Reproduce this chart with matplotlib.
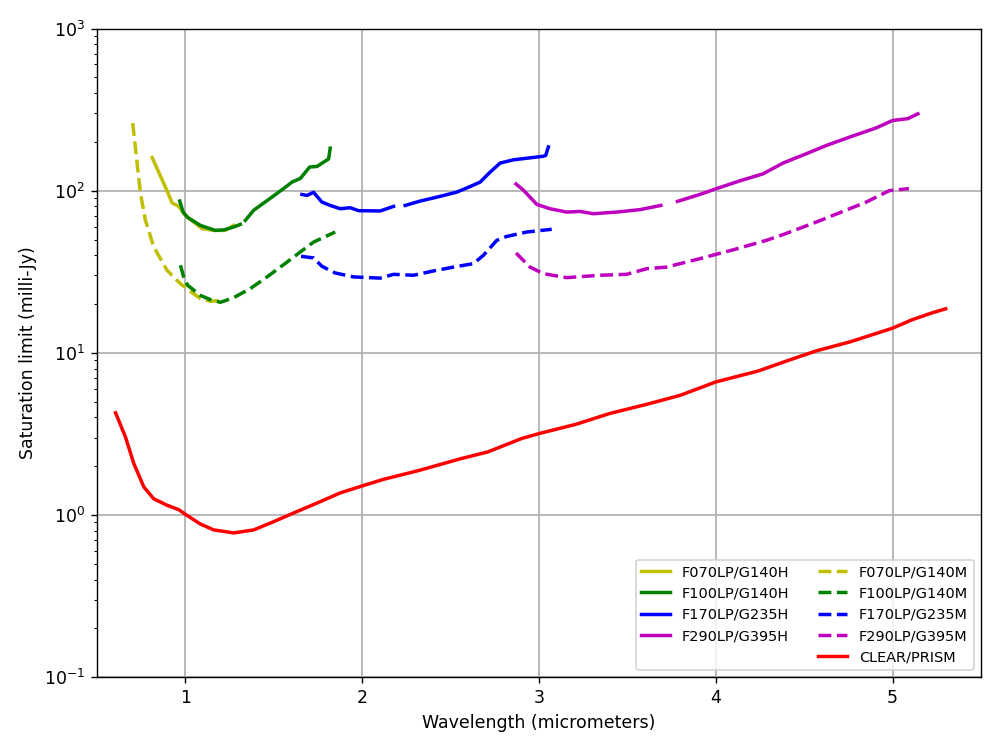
import numpy as np
import matplotlib
matplotlib.use("Agg")
import matplotlib.pyplot as plt
from matplotlib.lines import Line2D

# ---------------- data (wavelength in micrometers, limit in milli-Jy) ----------------
# nan = detector gap
wl_f070_h = [0.812, 0.849, 0.896, 0.925, 0.962, 1.0, 1.047, 1.094, 1.16, 1.226, 1.273]
sat_f070_h = [160, 130, 100, 84, 80, 70.5, 64.1, 58.4, 56.9, 56.9, 61.1]

wl_f100_h = [0.968, 0.987, 1.013, 1.085, 1.169, 1.217, 1.273, 1.311, 1.325,
             1.339, 1.386, 1.49, 1.555, 1.603, 1.65, 1.703, 1.744, 1.81, 1.819]
sat_f100_h = [86.3, 73.8, 68.3, 61.1, 56.9, 57.3, 59.7, 62, np.nan,
              65.6, 75.7, 91.4, 103, 113, 119, 140, 141, 157, 183]

wl_f170_h = [1.659, 1.688, 1.725, 1.772, 1.819, 1.876, 1.932, 1.979, 2.102, 2.177, 2.21,
             2.243, 2.328, 2.441, 2.535, 2.61, 2.667, 2.723, 2.78, 2.855, 3.024, 3.038, 3.053]
sat_f170_h = [94.8, 93.5, 97.7, 85.1, 81.1, 77.4, 78.5, 75.3, 75, 80, np.nan,
              81.1, 86.3, 92.3, 98, 106, 113, 130, 148, 155, 163, 165, 186]

wl_f290_h = [2.87, 2.911, 2.987, 3.062, 3.156, 3.232, 3.307, 3.439, 3.571, 3.689, 3.74,
             3.783, 3.91, 4.004, 4.136, 4.267, 4.38, 4.512, 4.625, 4.757, 4.908, 5.0, 5.086, 5.143]
sat_f290_h = [110, 101, 82.4, 77.4, 73.8, 74.5, 72.1, 73.8, 76.4, 81.1, np.nan,
              85.9, 94.8, 103, 115, 127, 148, 169, 190, 214, 244, 271, 278, 298]

wl_f070_m = [0.702, 0.727, 0.746, 0.774, 0.821, 0.896, 0.972, 1.028, 1.085, 1.141, 1.19]
sat_f070_m = [261, 147, 95.8, 65.6, 45, 32.3, 26.7, 24.0, 21.6, 20.8, 21]

wl_f100_m = [0.972, 0.99, 1.013, 1.085, 1.141, 1.198, 1.273, 1.367, 1.462, 1.575,
             1.65, 1.725, 1.847]
sat_f100_m = [34.7, 29.4, 26.1, 22.6, 21.3, 20.5, 21.9, 24.9, 29.4, 36.3,
              41.9, 48.2, 55.6]

wl_f170_m = [1.654, 1.725, 1.772, 1.847, 1.951, 2.102, 2.177, 2.29, 2.403, 2.516,
             2.629, 2.685, 2.761, 2.817, 2.93, 3.072]
sat_f170_m = [39.4, 38.5, 34.2, 31.1, 29.4, 28.9, 30.5, 30.1, 32, 33.8,
              35.5, 39.9, 49.4, 52.2, 55.6, 57.8]

wl_f290_m = [2.87, 2.949, 3.024, 3.156, 3.345, 3.495, 3.608, 3.721, 3.91, 4.098,
             4.286, 4.38, 4.569, 4.757, 4.851, 4.981, 5.092]
sat_f290_m = [41.3, 33.8, 30.8, 29.1, 30.1, 30.5, 33.0, 33.8, 38.1, 43.2,
              49.4, 53.6, 64.1, 77.4, 85.1, 100, 103]

wl_prism = [0.605, 0.661, 0.708, 0.765, 0.821, 0.896, 0.962, 1.006, 1.085, 1.16, 1.273,
            1.386, 1.499, 1.612, 1.763, 1.876, 1.998, 2.12, 2.31, 2.56, 2.71, 2.9, 3.0,
            3.21, 3.4, 3.61, 3.8, 4.0, 4.24, 4.4, 4.57, 4.76, 5.0, 5.11, 5.22, 5.3]
sat_prism = [4.27, 3.03, 2.08, 1.49, 1.26, 1.15, 1.08, 1.0, 0.88, 0.81, 0.776,
             0.81, 0.91, 1.03, 1.21, 1.37, 1.51, 1.66, 1.87, 2.23, 2.45, 2.96, 3.18,
             3.63, 4.23, 4.82, 5.48, 6.62, 7.73, 8.91, 10.3, 11.7, 14.2, 16.0, 17.6, 18.7]

lw = 2

fig, ax = plt.subplots(figsize=(8, 6), dpi=125)
fig.subplots_adjust(left=0.097, right=0.981, bottom=0.097, top=0.962)

h1, = ax.plot(wl_f070_h, sat_f070_h, color='y', lw=lw, label='F070LP/G140H')
h2, = ax.plot(wl_f100_h, sat_f100_h, color='g', lw=lw, label='F100LP/G140H')
h3, = ax.plot(wl_f170_h, sat_f170_h, color='b', lw=lw, label='F170LP/G235H')
h4, = ax.plot(wl_f290_h, sat_f290_h, color='m', lw=lw, label='F290LP/G395H')
m1, = ax.plot(wl_f070_m, sat_f070_m, color='y', lw=lw, ls='--', label='F070LP/G140M')
m2, = ax.plot(wl_f100_m, sat_f100_m, color='g', lw=lw, ls='--', label='F100LP/G140M')
m3, = ax.plot(wl_f170_m, sat_f170_m, color='b', lw=lw, ls='--', label='F170LP/G235M')
m4, = ax.plot(wl_f290_m, sat_f290_m, color='m', lw=lw, ls='--', label='F290LP/G395M')
p1, = ax.plot(wl_prism, sat_prism, color='r', lw=lw, label='CLEAR/PRISM')

blank = Line2D([], [], color='none')
handles = [h1, h2, h3, h4, blank, m1, m2, m3, m4, p1]
labels = [h.get_label() for h in [h1, h2, h3, h4]] + [''] + \
         [h.get_label() for h in [m1, m2, m3, m4, p1]]
ax.legend(handles, labels, loc='lower right', ncol=2, fontsize='small')

ax.set_yscale('log')
ax.set_xlim(0.5, 5.5)
ax.set_ylim(0.1, 1000)
ax.grid(True, which='major', lw=1)
ax.set_xlabel('Wavelength (micrometers)')
ax.set_ylabel('Saturation limit (milli-Jy)')

plt.savefig('out.png', dpi=125)
